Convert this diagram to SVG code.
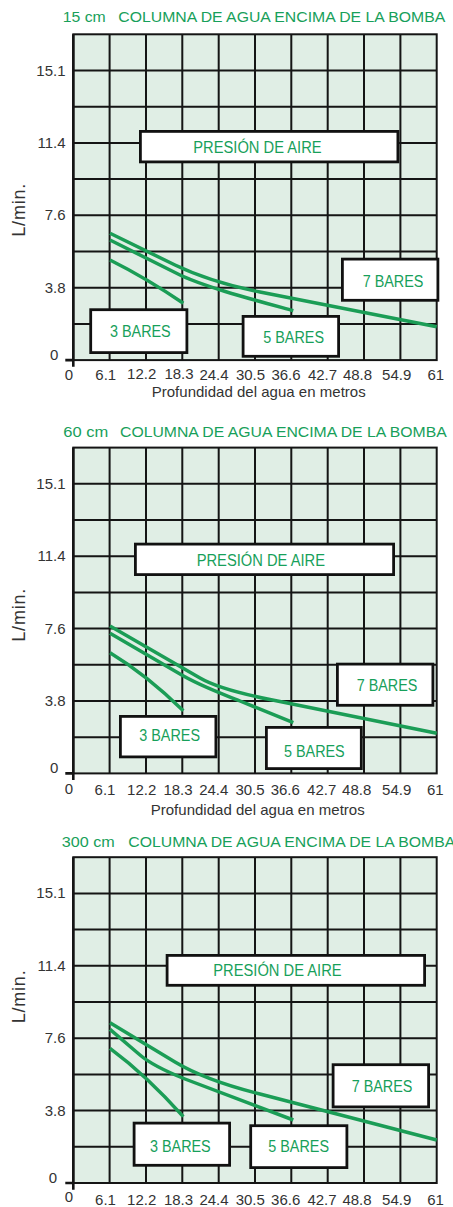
<svg xmlns="http://www.w3.org/2000/svg" width="453" height="1207" viewBox="0 0 453 1207">
<style>
text{font-family:"Liberation Sans",Arial,sans-serif}
.title{font-size:15.5px;fill:#17a05a}
.num{font-size:15px;fill:#333}
.yl{text-anchor:end}
.xl{text-anchor:middle}
.lab{font-size:16px;fill:#17a05a}
.ylab{font-size:18px;fill:#333}
.box{fill:#fff;stroke:#111;stroke-width:2.8}
.curve{fill:none;stroke:#1b9d56;stroke-width:3.5;stroke-linejoin:round}
</style>
<defs>
<g id="grid">
<rect x="0" y="0" width="363.4" height="325.8" fill="#e0eee5"/>
<path d="M36.3,0V325.8M72.7,0V325.8M109,0V325.8M145.4,0V325.8M181.7,0V325.8M218,0V325.8M254.4,0V325.8M290.7,0V325.8M327.1,0V325.8M0,36.2H363.4M0,72.4H363.4M0,108.6H363.4M0,144.8H363.4M0,181H363.4M0,217.2H363.4M0,253.4H363.4M0,289.6H363.4" stroke="#151515" stroke-width="2" fill="none"/>
<rect x="0" y="0" width="363.4" height="325.8" fill="none" stroke="#151515" stroke-width="2"/>
<path d="M-8,325.8H0M0,0V332.5" stroke="#151515" stroke-width="2.6" fill="none"/>
</g>
</defs>

<!-- Chart 1 -->
<g id="chart-15cm">
<text class="title" x="62.7" y="21.7" textLength="43" lengthAdjust="spacingAndGlyphs">15 cm</text>
<text class="title" x="118.3" y="21.7" textLength="327" lengthAdjust="spacingAndGlyphs">COLUMNA DE AGUA ENCIMA DE LA BOMBA</text>
<use href="#grid" transform="translate(73.3,34.3)"/>
<g class="num yl">
<text x="65.5" y="75.5">15.1</text>
<text x="65.5" y="147.9">11.4</text>
<text x="65.5" y="220.3">7.6</text>
<text x="65.5" y="292.7">3.8</text>
<text x="58.3" y="359.6">0</text>
</g>
<g class="num xl">
<text x="69" y="380">0</text>
<text x="105.8" y="380">6.1</text>
<text x="141.7" y="378.5">12.2</text>
<text x="179" y="378.5">18.3</text>
<text x="214" y="380">24.4</text>
<text x="250.5" y="380">30.5</text>
<text x="286" y="380">36.6</text>
<text x="322.5" y="380">42.7</text>
<text x="357.5" y="380">48.8</text>
<text x="396.7" y="380">54.9</text>
<text x="435.8" y="380">61</text>
</g>
<text class="num" x="151.7" y="396.7" textLength="214">Profundidad del agua en metros</text>
<text class="ylab" transform="translate(25,236.7) rotate(-90)" textLength="53">L/min.</text>
<g id="c1-curves">
<path class="curve" d="M110,233.3 L175,265 C200,277 230,286 260,292 L436.7,326.7"/>
<path class="curve" d="M110,240 L178,274 C203,286.5 253.3,299.7 293.3,310.7"/>
<path class="curve" d="M110,260 Q146.75,278.35 183.3,303.3"/>
</g>
<g id="c1-presion"><rect class="box" x="140.4" y="131.4" width="257.5" height="30.5"/><text class="lab" x="193.3" y="152.7" textLength="128.3" lengthAdjust="spacingAndGlyphs">PRESIÓN DE AIRE</text></g>
<g id="c1-3bares"><rect class="box" x="90.7" y="309.7" width="96.2" height="42.9"/><text class="lab" x="110" y="336.7" textLength="60.7" lengthAdjust="spacingAndGlyphs">3 BARES</text></g>
<g id="c1-5bares"><rect class="box" x="243.1" y="316.4" width="95.5" height="39.9"/><text class="lab" x="263.3" y="342.7" textLength="60.7" lengthAdjust="spacingAndGlyphs">5 BARES</text></g>
<g id="c1-7bares"><rect class="box" x="342.4" y="259.1" width="95.5" height="41.2"/><text class="lab" x="362.7" y="287.3" textLength="60.7" lengthAdjust="spacingAndGlyphs">7 BARES</text></g>
</g>

<!-- Chart 2 -->
<g id="chart-60cm">
<text class="title" x="63.3" y="437.3" textLength="45" lengthAdjust="spacingAndGlyphs">60 cm</text>
<text class="title" x="120" y="437.3" textLength="326.7" lengthAdjust="spacingAndGlyphs">COLUMNA DE AGUA ENCIMA DE LA BOMBA</text>
<use href="#grid" transform="translate(73.3,447.6)"/>
<g class="num yl">
<text x="65.5" y="488.8">15.1</text>
<text x="65.5" y="561.2">11.4</text>
<text x="65.5" y="633.6">7.6</text>
<text x="65.5" y="706">3.8</text>
<text x="58.3" y="772.9">0</text>
</g>
<g class="num xl">
<text x="69" y="793.5">0</text>
<text x="105" y="795">6.1</text>
<text x="141.7" y="795">12.2</text>
<text x="178" y="795">18.3</text>
<text x="213.8" y="795">24.4</text>
<text x="250" y="795">30.5</text>
<text x="285.3" y="795">36.6</text>
<text x="321.7" y="795">42.7</text>
<text x="356.7" y="795">48.8</text>
<text x="396.7" y="795">54.9</text>
<text x="435.3" y="795">61</text>
</g>
<text class="num" x="150.7" y="815" textLength="214">Profundidad del agua en metros</text>
<text class="ylab" transform="translate(25,641.7) rotate(-90)" textLength="53">L/min.</text>
<g id="c2-curves">
<path class="curve" d="M110,626 L200,678 C215,686.7 240,693.5 270,699.5 L436.7,733.3"/>
<path class="curve" d="M110,633.3 L180,674 C200,686 222,693.6 240,701 L293.3,722.7"/>
<path class="curve" d="M110,652.7 Q146.75,674.9 183.3,710.7"/>
</g>
<g id="c2-presion"><rect class="box" x="135.4" y="544.1" width="258.2" height="30.5"/><text class="lab" x="196.7" y="566" textLength="128.3" lengthAdjust="spacingAndGlyphs">PRESIÓN DE AIRE</text></g>
<g id="c2-3bares"><rect class="box" x="120.4" y="716.4" width="95.5" height="40.5"/><text class="lab" x="139.3" y="740.7" textLength="60.7" lengthAdjust="spacingAndGlyphs">3 BARES</text></g>
<g id="c2-5bares"><rect class="box" x="266.4" y="727.4" width="94.9" height="41.2"/><text class="lab" x="284" y="756.7" textLength="60.7" lengthAdjust="spacingAndGlyphs">5 BARES</text></g>
<g id="c2-7bares"><rect class="box" x="337.4" y="664.1" width="95.5" height="41.2"/><text class="lab" x="356.7" y="690.7" textLength="60.7" lengthAdjust="spacingAndGlyphs">7 BARES</text></g>
</g>

<!-- Chart 3 -->
<g id="chart-300cm">
<text class="title" x="61.7" y="847.3" textLength="53" lengthAdjust="spacingAndGlyphs">300 cm</text>
<text class="title" x="128.3" y="847.3" textLength="327" lengthAdjust="spacingAndGlyphs">COLUMNA DE AGUA ENCIMA DE LA BOMBA</text>
<use href="#grid" transform="translate(73.3,857.2)"/>
<g class="num yl">
<text x="65.5" y="898.4">15.1</text>
<text x="65.5" y="970.8">11.4</text>
<text x="65.5" y="1043.2">7.6</text>
<text x="65.5" y="1115.6">3.8</text>
<text x="57" y="1182.5">0</text>
</g>
<g class="num xl">
<text x="69" y="1201.7">0</text>
<text x="105.5" y="1205">6.1</text>
<text x="141.7" y="1205">12.2</text>
<text x="178.5" y="1205">18.3</text>
<text x="214" y="1205">24.4</text>
<text x="250.3" y="1205">30.5</text>
<text x="285.7" y="1205">36.6</text>
<text x="322" y="1205">42.7</text>
<text x="357" y="1205">48.8</text>
<text x="396.7" y="1205">54.9</text>
<text x="435.5" y="1205">61</text>
</g>
<text class="ylab" transform="translate(25,1023.3) rotate(-90)" textLength="53">L/min.</text>
<g id="c3-curves">
<path class="curve" d="M110,1022.7 L175,1062 C200,1077 230,1086.5 260,1094 L436.7,1140"/>
<path class="curve" d="M110,1029.3 L140,1055 C150,1063.6 170,1073 185,1079 L293.3,1120"/>
<path class="curve" d="M110,1048.3 Q146.75,1075.5 183.3,1116.7"/>
</g>
<g id="c3-presion"><rect class="box" x="167.1" y="955.4" width="257.5" height="29.9"/><text class="lab" x="213.3" y="976" textLength="128.3" lengthAdjust="spacingAndGlyphs">PRESIÓN DE AIRE</text></g>
<g id="c3-3bares"><rect class="box" x="134.1" y="1123.1" width="95.5" height="42.2"/><text class="lab" x="150" y="1151.7" textLength="60.7" lengthAdjust="spacingAndGlyphs">3 BARES</text></g>
<g id="c3-5bares"><rect class="box" x="250.7" y="1125.7" width="96.2" height="41.9"/><text class="lab" x="268.3" y="1152.3" textLength="60.7" lengthAdjust="spacingAndGlyphs">5 BARES</text></g>
<g id="c3-7bares"><rect class="box" x="333.1" y="1064.7" width="95.5" height="42.2"/><text class="lab" x="351.7" y="1091.7" textLength="60.7" lengthAdjust="spacingAndGlyphs">7 BARES</text></g>
</g>
</svg>
